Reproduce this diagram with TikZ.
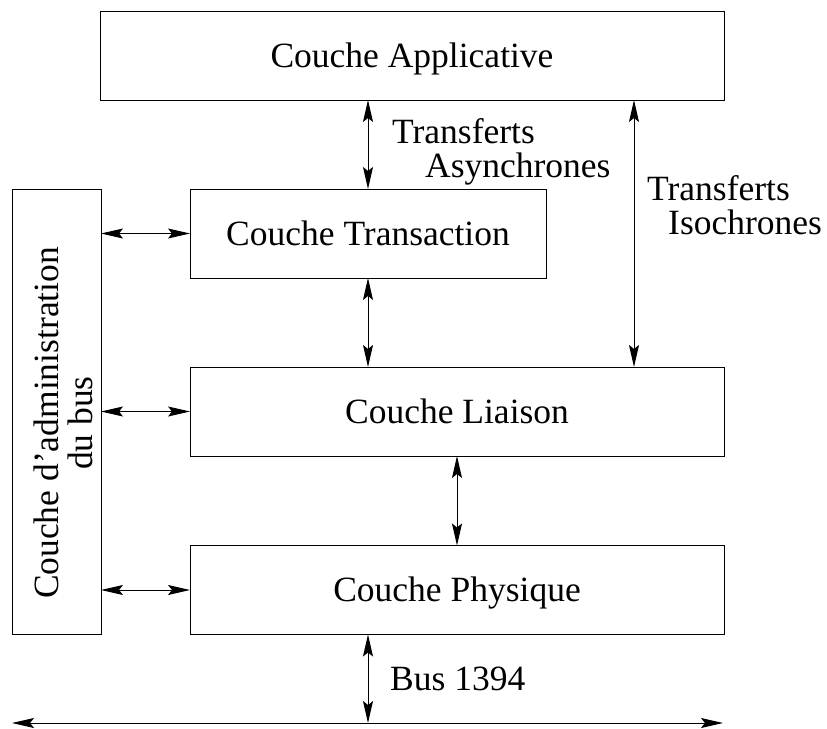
\documentclass[tikz,border=0pt]{standalone}
\usepackage{fontspec}
\setmainfont{Liberation Serif}
\usetikzlibrary{arrows.meta}
\begin{document}
\begin{tikzpicture}[x=1pt,y=-1pt,
  font=\fontsize{35.5}{33.5}\selectfont,
  layer/.style={draw, line width=1pt, inner sep=0pt, outer sep=0pt,
    text height=23.5pt, text depth=0pt, minimum height=89pt},
  link/.style={line width=1pt,
    {Stealth[length=22pt,width=10pt,inset=4pt]}-{Stealth[length=22pt,width=10pt,inset=4pt]}},
  lbl/.style={inner sep=0pt, anchor=base west}]
\useasboundingbox (0,0) rectangle (827,728);

% layers
\node[layer, minimum width=624pt] (app) at (412,55.5) {Couche Applicative};
\node[layer, minimum width=356pt] (tra) at (368,233.5) {Couche Transaction};
\node[layer, minimum width=534pt] (lia) at (457,411.5) {Couche Liaison};
\node[layer, minimum width=534pt] (phy) at (457,590) {Couche Physique};
\node[draw, line width=1pt, inner sep=0pt, outer sep=0pt,
      minimum width=89pt, minimum height=445pt] (adm) at (56.5,411.5) {};
\node[inner sep=0pt, rotate=90, anchor=base] (admtxt) at (58,423)
  {\begin{tabular}[t]{@{}c@{}}Couche d'administration\\du bus\end{tabular}};

% helper coordinates
\coordinate (iso) at (634,0);
\coordinate (busL) at (12,723);
\coordinate (busR) at (723,723);
\coordinate (busM) at (368,723);

% connectors
\draw[link] (app.south -| tra.north) -- (tra.north);
\draw[link] (app.south -| iso) -- (lia.north -| iso);
\draw[link] (tra.south) -- (lia.north -| tra.south);
\draw[link] (lia.south) -- (phy.north);
\draw[link] (phy.south -| busM) -- (busM);
\draw[link] (busL) -- (busR);
\draw[link] (adm.east |- tra.west) -- (tra.west);
\draw[link] (adm.east |- lia.west) -- (lia.west);
\draw[link] (adm.east |- phy.west) -- (phy.west);

% labels
\node[lbl] (async) at (392,143)
  {\begin{tabular}[t]{@{}l@{}}Transferts\\\hspace*{33pt}Asynchrones\end{tabular}};
\node[lbl] (isoc) at (647,200)
  {\begin{tabular}[t]{@{}l@{}}Transferts\\\hspace*{21pt}Isochrones\end{tabular}};
\node[lbl] (bus) at (390,690) {Bus 1394};
\end{tikzpicture}
\end{document}
